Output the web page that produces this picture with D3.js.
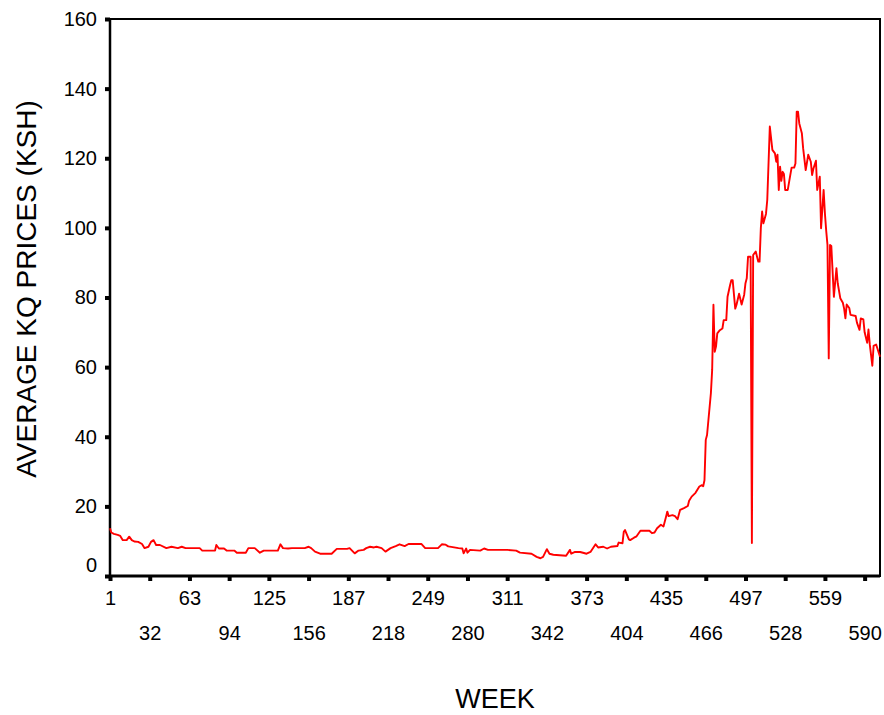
<!DOCTYPE html>
<html>
<head>
<meta charset="utf-8">
<script src="https://cdn.jsdelivr.net/npm/d3@7"></script>
<style>
  body { margin: 0; background: #fff; }
  svg { display: block; }
  text { font-family: "Liberation Sans", Arial, sans-serif; fill: #000; }
</style>
</head>
<body>
<div id="chart"></div>
<script>
// readings taken off the chart: week number and average price (KSH)
var weeks = [1, 2, 4, 7, 9, 11, 14, 16, 18, 20, 23, 26, 28, 31, 33, 35, 37, 40, 45, 49,
    54, 57, 60, 71, 73, 83, 84, 86, 90, 92, 98, 100, 107, 109, 114, 118, 121, 132, 134, 136,
    140, 143, 153, 156, 158, 161, 165, 174, 178, 186, 188, 192, 195, 199, 201, 204, 207, 209, 213, 216,
    220, 224, 227, 231, 234, 244, 247, 257, 260, 263, 265, 273, 276, 277, 279, 280, 282, 290, 293, 296,
    311, 318, 321, 330, 334, 337, 339, 342, 344, 347, 357, 360, 361, 364, 368, 373, 376, 380, 382, 386,
    389, 392, 397, 398, 401, 402, 403, 406, 407, 410, 412, 415, 422, 424, 426, 428, 431, 433, 435, 436,
    437, 440, 442, 444, 446, 449, 452, 453, 455, 458, 461, 463, 464, 465, 466, 467, 470, 471, 472, 473,
    474, 475, 477, 479, 480, 482, 483, 485, 486, 487, 489, 490, 492, 494, 496, 497, 498, 499, 501, 502,
    503, 505, 507, 508, 509, 510, 511, 513, 514, 516, 518, 520, 521, 522, 523, 524, 525, 526, 527, 528,
    530, 532, 533, 535, 536, 537, 538, 539, 541, 542, 544, 546, 548, 549, 550, 552, 553, 555, 556, 558,
    559, 560, 561, 562, 563, 564, 566, 568, 569, 571, 573, 574, 575, 576, 578, 579, 583, 584, 586, 587,
    589, 590, 592, 593, 594, 596, 597, 599, 602];
var prices = [13.7, 12.5, 12.1, 11.8, 11.5, 10.3, 10.3, 11.3, 10.3, 9.9, 9.8, 9.2, 8.0, 8.4, 9.8, 10.3, 8.9, 8.9, 8.0, 8.4,
    8.0, 8.4, 8.0, 8.0, 7.3, 7.3, 8.9, 7.9, 7.9, 7.3, 7.3, 6.7, 6.7, 8.0, 8.0, 6.7, 7.3, 7.3, 9.1, 8.0,
    7.9, 8.0, 8.0, 8.4, 8.0, 7.0, 6.4, 6.4, 7.8, 7.8, 8.0, 6.5, 7.3, 7.5, 8.0, 8.4, 8.2, 8.4, 8.0, 7.0,
    8.0, 8.6, 9.1, 8.6, 9.2, 9.2, 8.0, 8.0, 9.1, 9.0, 8.5, 8.0, 7.9, 6.5, 7.9, 6.7, 7.5, 7.3, 7.9, 7.5,
    7.5, 7.3, 6.7, 6.4, 5.5, 5.1, 5.5, 7.7, 6.4, 6.1, 5.8, 7.5, 6.4, 6.9, 6.9, 6.4, 6.9, 9.1, 8.2, 8.4,
    7.9, 8.4, 8.6, 9.6, 9.4, 12.7, 13.2, 10.5, 10.3, 11.0, 11.4, 13.0, 13.0, 12.3, 12.5, 13.7, 14.7, 14.2, 17.0, 18.5,
    17.2, 17.5, 17.2, 16.3, 19.0, 19.5, 20.1, 21.6, 22.8, 23.9, 25.7, 26.1, 25.8, 27.5, 39.1, 40.5, 52.5, 59.2, 77.9, 64.4,
    65.9, 69.7, 70.6, 71.1, 73.5, 73.5, 80.2, 83.6, 85.0, 85.0, 76.8, 77.9, 81.1, 78.0, 80.8, 84.1, 85.5, 91.7, 91.7, 9.5,
    92.2, 93.2, 90.3, 90.3, 100.0, 104.7, 101.3, 104.0, 108.0, 129.1, 122.4, 121.4, 119.0, 121.0, 110.9, 117.6, 113.5, 116.1, 115.5, 110.9,
    110.9, 115.2, 117.3, 117.3, 118.5, 133.4, 133.4, 130.0, 127.2, 122.9, 116.6, 121.0, 119.0, 115.2, 117.0, 119.3, 110.9, 114.7, 99.9, 110.9,
    104.2, 99.2, 95.1, 62.5, 95.1, 94.8, 80.2, 88.4, 84.1, 79.8, 78.5, 76.8, 74.0, 78.0, 77.0, 75.0, 74.7, 72.8, 70.7, 74.0,
    73.7, 70.0, 67.0, 70.8, 66.6, 60.4, 66.1, 66.5, 63.0];

var xTicks = [1, 32, 63, 94, 125, 156, 187, 218, 249, 280, 311, 342, 373, 404, 435, 466, 497, 528, 559, 590];
var yTicks = [0, 20, 40, 60, 80, 100, 120, 140, 160];
var lastWeek = 602;

var margin = {top: 19, right: 4, bottom: 139, left: 110},
    width = 884 - margin.left - margin.right,
    height = 715 - margin.top - margin.bottom;

var data = weeks.map(function(w, i) {
    return {week: w, price: prices[i]};
});

var x = d3.scaleLinear()
    .domain([1, lastWeek])
    .range([0, width]);
var y = d3.scaleLinear()
    .domain([0, 160])
    .range([height, 0]);

var svg = d3.select("#chart").append("svg")
    .attr("width", 884)
    .attr("height", 715);
var g = svg.append("g")
    .attr("transform", "translate(" + margin.left + "," + margin.top + ")");

// frame (top / right)
g.append("rect")
    .attr("x", 0)
    .attr("y", 0)
    .attr("width", width)
    .attr("height", height)
    .style("fill", "none")
    .style("stroke", "#000")
    .style("stroke-width", 2);

var yAxis = d3.axisLeft(y)
    .tickValues(yTicks)
    .tickSize(5)
    .tickPadding(8)
    .tickFormat(d3.format("d"));
var yG = g.append("g")
    .attr("class", "y axis")
    .call(yAxis);
yG.select(".domain").remove();
yG.selectAll(".tick line")
    .style("stroke", "#000")
    .style("stroke-width", 4);
yG.selectAll(".tick text")
    .attr("font-size", 20)
    .attr("dy", function(d) {
        return d === 0 ? "-0.24em" : "0.32em";
    });

var xAxis = d3.axisBottom(x)
    .tickValues(xTicks)
    .tickSize(5)
    .tickFormat(d3.format("d"));
var xG = g.append("g")
    .attr("class", "x axis")
    .attr("transform", "translate(0," + height + ")")
    .call(xAxis);
xG.select(".domain").remove();
xG.selectAll(".tick line")
    .style("stroke", "#000")
    .style("stroke-width", 4);
xG.selectAll(".tick text")
    .attr("font-size", 20)
    .attr("dy", 0)
    .attr("y", function(d, i) {
        return i % 2 === 0 ? 29 : 64;
    });

// left and bottom axis lines
g.append("line")
    .attr("x1", 0).attr("x2", 0)
    .attr("y1", 0).attr("y2", height)
    .style("stroke", "#000")
    .style("stroke-width", 2.5);
g.append("line")
    .attr("x1", 0).attr("x2", width)
    .attr("y1", height).attr("y2", height)
    .style("stroke", "#000")
    .style("stroke-width", 3);

var line = d3.line()
    .x(function(d) { return x(d.week); })
    .y(function(d) { return y(d.price); });

g.append("path")
    .datum(data)
    .attr("d", line)
    .style("fill", "none")
    .style("stroke", "#ff0000")
    .style("stroke-width", 1.9)
    .style("stroke-linejoin", "round");

// axis titles
svg.append("text")
    .attr("x", margin.left + width / 2)
    .attr("y", 708)
    .attr("text-anchor", "middle")
    .attr("font-size", 27)
    .text("WEEK");
svg.append("text")
    .attr("transform", "translate(36,289) rotate(-90)")
    .attr("text-anchor", "middle")
    .attr("font-size", 28)
    .text("AVERAGE KQ PRICES (KSH)");
</script>
</body>
</html>
